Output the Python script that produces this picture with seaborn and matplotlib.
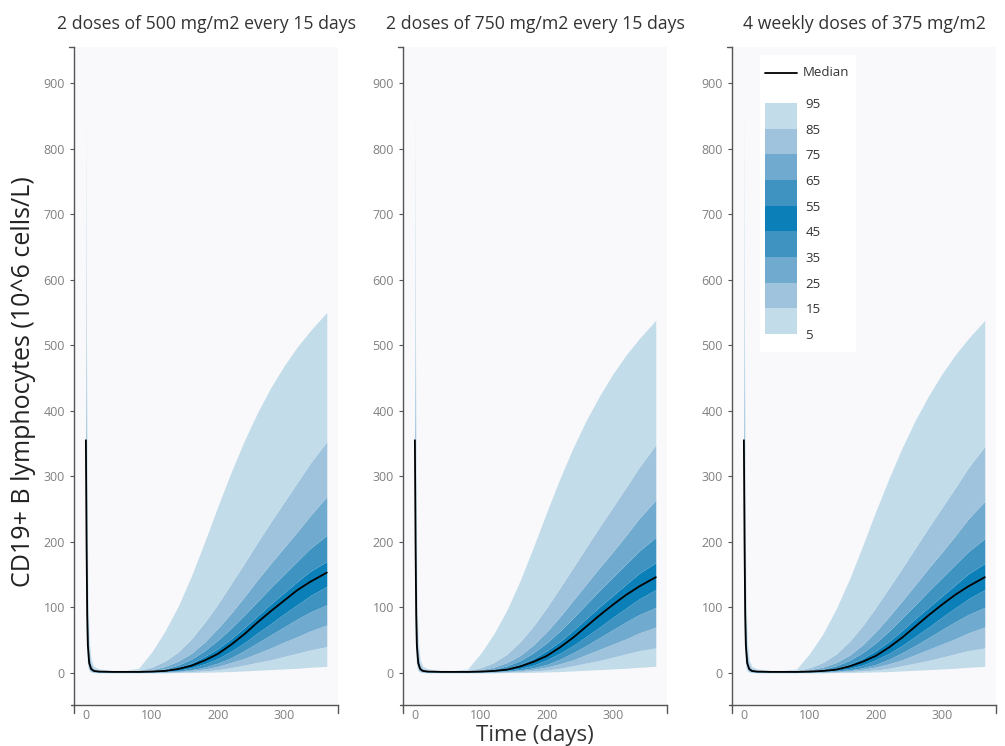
import matplotlib
matplotlib.use("Agg")
import matplotlib as mpl
import matplotlib.pyplot as plt
import seaborn as sns
from matplotlib.colors import ListedColormap, BoundaryNorm

# simulated B-cell counts, percentiles of the population per regimen
titles = ["2 doses of 500 mg/m2 every 15 days",
          "2 doses of 750 mg/m2 every 15 days",
          "4 weekly doses of 375 mg/m2"]

days = [0, 1, 2, 3, 5, 8, 12, 20, 40, 60, 80, 100, 120, 140, 160, 180, 200,
        220, 240, 260, 280, 300, 320, 340, 365]

p95 = [[870, 500, 250, 130, 50, 20, 10, 6, 4, 4, 7, 32, 64, 102, 148, 200, 254, 306, 354, 397, 435, 468, 497, 522, 550],
       [870, 500, 250, 130, 50, 20, 10, 6, 4, 4, 6, 30, 60, 97, 142, 193, 246, 297, 344, 386, 423, 456, 485, 510, 538],
       [870, 500, 250, 130, 50, 20, 10, 6, 4, 4, 6, 30, 60, 98, 143, 194, 247, 297, 344, 386, 423, 456, 485, 510, 538]]
p85 = [[700, 380, 180, 90, 35, 14, 7, 4, 3, 3, 4, 9, 18, 32, 52, 77, 105, 136, 167, 199, 230, 260, 290, 320, 353],
       [700, 380, 180, 90, 35, 14, 7, 4, 3, 3, 4, 8, 16, 29, 48, 72, 100, 130, 161, 192, 223, 253, 283, 314, 348],
       [700, 380, 180, 90, 35, 14, 7, 4, 3, 3, 4, 8, 16, 29, 48, 72, 100, 130, 160, 191, 222, 252, 282, 313, 346]]
p75 = [[580, 320, 150, 75, 28, 11, 5, 3, 2, 2, 3, 5, 10, 18, 30, 47, 68, 91, 116, 142, 167, 191, 215, 240, 269],
       [580, 320, 150, 75, 28, 11, 5, 3, 2, 2, 3, 5, 9, 16, 27, 43, 63, 86, 111, 136, 161, 185, 210, 236, 264],
       [580, 320, 150, 75, 28, 11, 5, 3, 2, 2, 3, 5, 9, 16, 27, 43, 63, 86, 110, 135, 160, 184, 209, 235, 262]]
p65 = [[480, 270, 125, 62, 23, 9, 4, 2.5, 2, 2, 2, 4, 6, 12, 21, 34, 50, 68, 88, 109, 130, 150, 170, 190, 210],
       [480, 270, 125, 62, 23, 9, 4, 2.5, 2, 2, 2, 3.5, 5.5, 11, 19, 31, 46, 64, 84, 105, 126, 146, 166, 186, 207],
       [480, 270, 125, 62, 23, 9, 4, 2.5, 2, 2, 2, 3.5, 5.5, 11, 19, 31, 46, 64, 84, 104, 125, 145, 165, 185, 205]]
p55 = [[400, 225, 105, 50, 18, 7, 3.5, 2, 1.5, 1.5, 2, 3, 5, 8, 15, 25, 37, 52, 69, 87, 105, 122, 139, 155, 170],
       [400, 225, 105, 50, 18, 7, 3.5, 2, 1.5, 1.5, 2, 3, 4.5, 7, 13, 22, 34, 48, 65, 83, 101, 118, 135, 152, 168],
       [400, 225, 105, 50, 18, 7, 3.5, 2, 1.5, 1.5, 2, 3, 4.5, 7, 13, 22, 34, 48, 65, 83, 100, 117, 134, 151, 167]]
p50 = [[355, 200, 90, 42, 15, 6, 3, 2, 1.5, 1.5, 1.5, 2, 3, 6, 11, 19, 29, 43, 59, 77, 94, 110, 126, 139, 153],
       [355, 200, 90, 42, 15, 6, 3, 2, 1.5, 1.5, 1.5, 2, 3, 5, 10, 17, 26, 39, 54, 71, 88, 104, 119, 132, 146],
       [355, 200, 90, 42, 15, 6, 3, 2, 1.5, 1.5, 1.5, 2, 3, 5, 10, 17, 26, 39, 54, 71, 88, 104, 119, 132, 146]]
p45 = [[320, 175, 80, 36, 12, 5, 2.5, 1.5, 1, 1, 1, 2, 2.5, 4, 8, 14, 22, 33, 46, 61, 75, 90, 104, 118, 132],
       [320, 175, 80, 36, 12, 5, 2.5, 1.5, 1, 1, 1, 2, 2.5, 4, 7, 12, 20, 30, 42, 56, 70, 85, 99, 113, 127],
       [320, 175, 80, 36, 12, 5, 2.5, 1.5, 1, 1, 1, 2, 2.5, 4, 7, 12, 20, 30, 42, 56, 70, 85, 99, 113, 127]]
p35 = [[260, 140, 65, 28, 10, 4, 2, 1, 1, 1, 1, 1, 2, 3, 5, 9, 15, 23, 34, 46, 58, 70, 82, 93, 104],
       [260, 140, 65, 28, 10, 4, 2, 1, 1, 1, 1, 1, 2, 3, 4.5, 8, 13, 21, 31, 42, 54, 66, 78, 89, 100],
       [260, 140, 65, 28, 10, 4, 2, 1, 1, 1, 1, 1, 2, 3, 4.5, 8, 13, 21, 31, 42, 54, 66, 78, 89, 100]]
p25 = [[200, 110, 50, 22, 8, 3, 1.5, 1, 0.5, 0.5, 0.5, 1, 1, 2, 4, 6, 10, 16, 22, 30, 38, 47, 55, 64, 73],
       [200, 110, 50, 22, 8, 3, 1.5, 1, 0.5, 0.5, 0.5, 1, 1, 2, 3.5, 5.5, 9, 14, 20, 28, 36, 44, 52, 61, 70],
       [200, 110, 50, 22, 8, 3, 1.5, 1, 0.5, 0.5, 0.5, 1, 1, 2, 3.5, 5.5, 9, 14, 20, 28, 36, 44, 52, 61, 70]]
p15 = [[140, 75, 35, 15, 5, 2, 1, 0.5, 0.5, 0.5, 0.5, 0.5, 1, 1, 2, 3, 5, 8, 12, 16, 20, 25, 30, 35, 40],
       [140, 75, 35, 15, 5, 2, 1, 0.5, 0.5, 0.5, 0.5, 0.5, 1, 1, 2, 3, 4.5, 7, 11, 15, 19, 24, 29, 34, 38],
       [140, 75, 35, 15, 5, 2, 1, 0.5, 0.5, 0.5, 0.5, 0.5, 1, 1, 2, 3, 4.5, 7, 11, 15, 19, 24, 29, 34, 38]]
p5 = [[70, 38, 18, 8, 3, 1, 0.5, 0, 0, 0, 0, 0, 0, 0.5, 0.5, 1, 1.5, 2, 3, 4, 5, 6, 7, 8.5, 10],
      [70, 38, 18, 8, 3, 1, 0.5, 0, 0, 0, 0, 0, 0, 0.5, 0.5, 1, 1.5, 2, 3, 4, 5, 6, 7, 8.5, 10],
      [70, 38, 18, 8, 3, 1, 0.5, 0, 0, 0, 0, 0, 0, 0.5, 0.5, 1, 1.5, 2, 3, 4, 5, 6, 7, 8.5, 10]]

levels = [5, 15, 25, 35, 45, 55, 65, 75, 85, 95]
# colour of the band between consecutive levels (5-15 ... 85-95)
band_colors = ["#c2dcea", "#9fc3dd", "#70abcf", "#3f93c1", "#0a7fb8",
               "#3f93c1", "#70abcf", "#9fc3dd", "#c2dcea"]

sns.set_style("ticks")
plt.rcParams['font.family'] = ['Open Sans', 'DejaVu Sans']

fig = plt.figure(figsize=(10.05, 7.46), dpi=100)
W, H = 1005, 746
lefts = [74, 403, 732]

for i, left in enumerate(lefts):
    ax = fig.add_axes([left / W, 41 / H, 264 / W, 658 / H])
    ax.set_facecolor("#f9f9fb")
    curves = [p5[i], p15[i], p25[i], p35[i], p45[i], p55[i], p65[i], p75[i], p85[i], p95[i]]
    for k in range(9):
        ax.fill_between(days, curves[k], curves[k + 1], color=band_colors[k], lw=0)
    sns.lineplot(x=days, y=p50[i], color="black", lw=1.3, ax=ax)

    ax.set_xlim(-18, 382)
    ax.set_ylim(-49, 955)
    ax.set_xticks([0, 100, 200, 300])
    ax.set_yticks(range(0, 1000, 100))
    ax.set_xlabel("")
    ax.set_ylabel("")
    sns.despine(ax=ax)
    for s in ["left", "bottom"]:
        ax.spines[s].set_color("#555555")
        ax.spines[s].set_linewidth(1)
    ax.tick_params(axis="y", labelsize=9, labelcolor="#808080", color="#555555", length=3, width=0.8)
    ax.tick_params(axis="x", labelsize=9, labelcolor="#808080", length=0, pad=3)
    # small end caps on the axis lines
    cap = dict(transform=ax.transAxes, clip_on=False, color="#555555", lw=1)
    ax.plot([-0.018, 0], [1, 1], **cap)
    ax.plot([1, 1], [0, -0.012], **cap)
    ax.plot([0, 0], [0, -0.012], **cap)
    ax.plot([-0.01, 0], [0, 0], **cap)
    ax.set_title(titles[i], fontsize=12.7, color="#333333", pad=13)

fig.text(24 / W, 1 - 382 / H, "CD19+ B lymphocytes (10^6 cells/L)", rotation=90,
         ha="center", va="center", fontsize=18, color="#222222")
fig.text(535 / W, 0, "Time (days)", ha="center", va="bottom",
         fontsize=16, color="#333333")

# legend box
box = fig.add_axes([760 / W, (H - 352) / H, 96 / W, 297 / H])
box.set_facecolor("white")
box.set_xticks([])
box.set_yticks([])
for s in box.spines.values():
    s.set_visible(False)
box.set_xlim(0, 1)
box.set_ylim(0, 1)
box.plot([0.052, 0.385], [0.94, 0.94], color="black", lw=1.3)
box.text(0.45, 0.94, "Median", va="center", fontsize=9.5, color="#333333")

cax = fig.add_axes([765 / W, (H - 334) / H, 32 / W, 231 / H])
cmap = ListedColormap(band_colors)
norm = BoundaryNorm(levels, cmap.N)
cb = fig.colorbar(mpl.cm.ScalarMappable(norm=norm, cmap=cmap), cax=cax, ticks=levels)
cb.outline.set_visible(False)
cax.tick_params(length=0, labelsize=9.5, labelcolor="#333333", pad=6)

fig.savefig("out.png", dpi=100)
